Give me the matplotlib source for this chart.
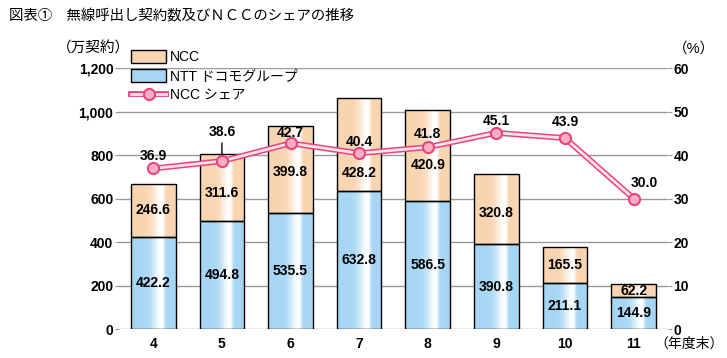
import numpy as np
import matplotlib.pyplot as plt
from matplotlib.colors import to_rgb
from matplotlib.patches import Patch
from matplotlib.lines import Line2D

plt.rcParams['font.family'] = ['Liberation Sans', 'Noto Sans CJK JP', 'DejaVu Sans']

years = ['4', '5', '6', '7', '8', '9', '10', '11']
docomo = [422.2, 494.8, 535.5, 632.8, 586.5, 390.8, 211.1, 144.9]
ncc = [246.6, 311.6, 399.8, 428.2, 420.9, 320.8, 165.5, 62.2]
share = [36.9, 38.6, 42.7, 40.4, 41.8, 45.1, 43.9, 30.0]
# label placement tweaks, in points
share_offsets = [(0, 9), (0, 21), (0, 7.5), (0, 8), (0, 9.5), (0, 8.5), (0, 11.5), (8, 11)]
ncc_label_drop = [0, 4, 2, 20, 7, 3, 0, 0]

blue = '#A6D6F4'
peach = '#F8D4B0'
red = '#E8457C'


def gradient_bar(ax, x, bottom, height, width, color, n=45):
    # bar painted in thin slices: base colour with a white highlight right of centre
    t = (np.arange(n) + 0.5) / n
    c = 0.69
    k = np.where(t < c, np.exp(-((t - c) / 0.2) ** 2), np.exp(-((t - c) / 0.06) ** 2))[:, None]
    base = np.array(to_rgb(color))
    cols = base * (1 - k) + k
    xs = x - width / 2 + t * width
    ax.bar(xs, height, width / n * 1.05, bottom=bottom, color=cols, linewidth=0, zorder=2)
    ax.bar(x, height, width, bottom=bottom, facecolor='none', edgecolor='black',
           linewidth=1, zorder=3)


fig = plt.figure(figsize=(7.27, 3.58), dpi=100)
ax = fig.add_axes([0.1637, 0.081, 0.755, 0.729])
ax2 = ax.twinx()

x = np.arange(len(years))
w = 0.65
for i in x:
    gradient_bar(ax, i, 0, docomo[i], w, blue)
    gradient_bar(ax, i, docomo[i], ncc[i], w, peach)
    ax.text(i, docomo[i] / 2, f'{docomo[i]:.1f}', ha='center', va='center',
            fontsize=10, fontweight='bold', zorder=5)
    ax.annotate(f'{ncc[i]:.1f}', (i, docomo[i] + ncc[i] / 2), xytext=(0, -ncc_label_drop[i]),
                textcoords='offset points', ha='center', va='center',
                fontsize=10, fontweight='bold', zorder=5)

ax.set_xlim(-0.5, len(years) - 0.5)
ax.set_ylim(0, 1200)
ax.set_yticks(range(0, 1201, 200))
ax.set_yticklabels([f'{v:,}' for v in range(0, 1201, 200)])
ax.set_xticks(x)
ax.set_xticklabels(years)
ax.grid(axis='y', color='#999999', linewidth=1, zorder=0)
ax.set_axisbelow(True)
for s in ax.spines.values():
    s.set_visible(False)
for s in ax2.spines.values():
    s.set_visible(False)
ax.tick_params(axis='y', length=3, color='#999999', labelsize=10, pad=1)
ax.tick_params(axis='x', length=0, labelsize=10, pad=6)
for lab in ax.get_xticklabels() + ax.get_yticklabels():
    lab.set_fontweight('bold')

ax2.set_ylim(0, 60)
ax2.set_yticks(range(0, 61, 10))
ax2.tick_params(axis='y', length=3, color='#999999', labelsize=10, pad=1)
for lab in ax2.get_yticklabels():
    lab.set_fontweight('bold')

ax2.plot(x, share, color=red, linewidth=4.2, zorder=4)
ax2.plot(x, share, color='#FFE2EA', linewidth=2.0, zorder=4)
ax2.plot(x, share, linestyle='none', marker='o', markersize=8, markerfacecolor='#F8AFC4',
         markeredgecolor=red, markeredgewidth=1.5, zorder=5)
for i, v in enumerate(share):
    dx, dy = share_offsets[i]
    ax2.annotate(f'{v:.1f}', (i, v), xytext=(dx, dy), textcoords='offset points',
                 ha='center', va='center', fontsize=10, fontweight='bold', zorder=6)
# leader line for the 38.6 label
ax2.annotate('', (1, 39.5), xytext=(1, 43.4),
             arrowprops=dict(arrowstyle='-', color='black', lw=1), zorder=6)

fig.text(0.012, 0.955, '図表①　無線呼出し契約数及びＮＣＣのシェアの推移', fontsize=10.4, va='center')
fig.text(0.078, 0.865, '（万契約）', fontsize=10.5, va='center')
fig.text(0.925, 0.865, '（%）', fontsize=10.5, va='center')
fig.text(0.995, 0.04, '（年度末）', fontsize=10, va='center', ha='right')

share_handle = (Line2D([0], [0], color=red, linewidth=4.2),
                Line2D([0], [0], color='#FFE2EA', linewidth=2.0, marker='o', markersize=8,
                       markerfacecolor='#F8AFC4', markeredgecolor=red, markeredgewidth=1.5))
handles = [Patch(facecolor=peach, edgecolor='black', linewidth=1),
           Patch(facecolor=blue, edgecolor='black', linewidth=1),
           share_handle]
leg = fig.legend(handles, ['NCC', 'NTT ドコモグループ', 'NCC シェア'], loc='upper left',
                 bbox_to_anchor=(0.173, 0.875), frameon=False, fontsize=10,
                 handlelength=2.5, handleheight=1.05, labelspacing=0.35, handletextpad=0.25,
                 borderaxespad=0)

fig.savefig('out.png', dpi=100)
